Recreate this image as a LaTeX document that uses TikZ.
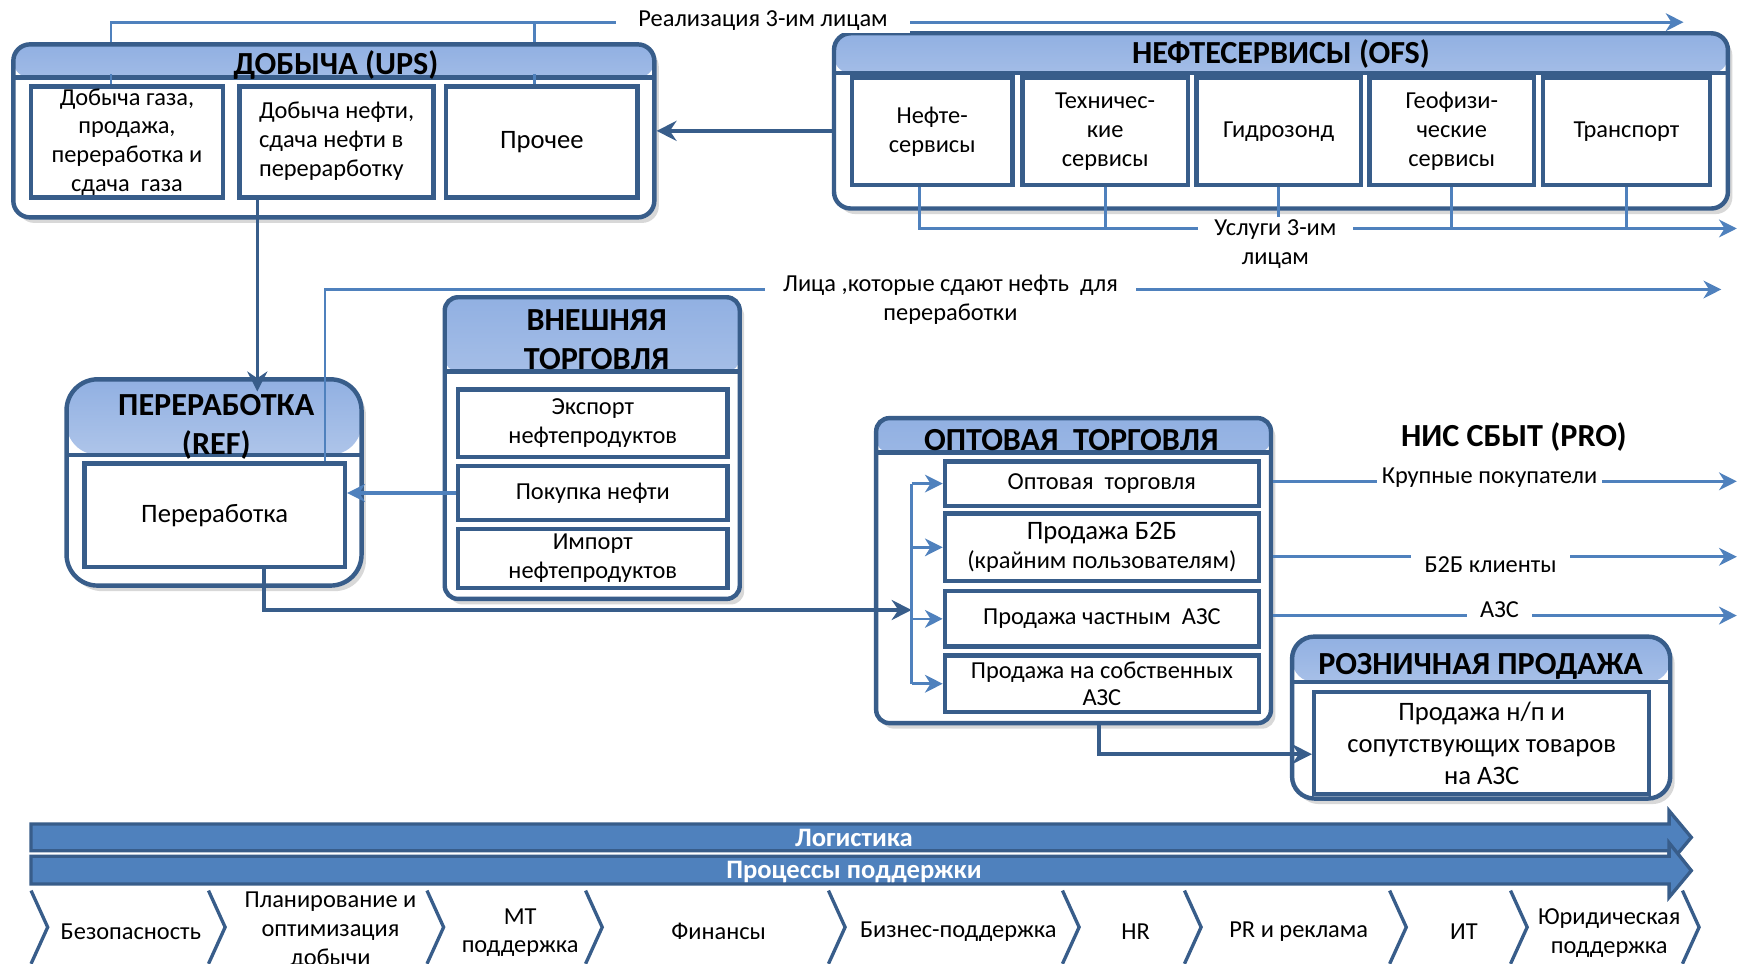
\documentclass[tikz,border=0pt]{standalone}
\usepackage{fontspec}
\setmainfont{Carlito}
\usetikzlibrary{arrows.meta,calc,fit,shadows}
\definecolor{bdr}{RGB}{56,93,138}
\definecolor{ltb}{RGB}{79,129,189}
\definecolor{hdtop}{RGB}{145,176,226}
\definecolor{hdbot}{RGB}{224,232,246}
\pgfdeclarelayer{bg}
\pgfsetlayers{bg,main}
\newcommand\hdrfont{\bfseries\fontsize{14.5}{17.5}\selectfont}
\newcommand\bodyfont{\fontsize{11}{13}\selectfont}
\begin{document}
\begin{tikzpicture}[x=0.5pt,y=-0.5pt,
  grp/.style={draw=bdr,line width=2pt,fill=white,inner sep=0pt,rounded corners=#1,
    drop shadow={shadow xshift=2pt,shadow yshift=-2.5pt,opacity=0.3}},
  hdr/.style={path picture={
    \shade[top color=hdtop,bottom color=hdbot] (path picture bounding box.north west) rectangle ([yshift=-#1]path picture bounding box.north east);
    \draw[bdr,line width=2pt] ([yshift=-#1]path picture bounding box.north west) -- ([yshift=-#1]path picture bounding box.north east);}},
  sub/.style={draw=bdr,line width=2pt,fill=white,inner sep=0pt,align=center,font=\bodyfont},
  ttl/.style={align=center,inner sep=0pt,font=\hdrfont},
  lab/.style={fill=white,inner ysep=1pt,inner xsep=#1,align=center,font=\bodyfont},
  ln/.style={ltb,line width=1.2pt},
  lna/.style={ln,-{Stealth[length=8pt,width=8pt,inset=2.5pt]}},
  dk/.style={bdr,line width=1.6pt,-{Stealth[length=9pt,width=9pt,inset=3pt]}},
  bar/.style={fill=ltb,draw=bdr,line width=1.5pt},
  chev/.style={bdr,line width=1.5pt},
  cl/.style={align=center,inner sep=0pt,font=\bodyfont},
  bl/.style={inner sep=0pt,text=white,font=\bfseries\fontsize{12}{14}\selectfont}
]
\useasboundingbox (0,0) rectangle (1568,869);
\fill[white] (0,0) rectangle (1568,869);

% ---------- group boxes ----------
\node[grp=7.5pt,hdr=15pt,fit={(12,40) (590,196)}] (ups) {};
\node[grp=7.5pt,hdr=18pt,fit={(752,30) (1558,188)}] (ofs) {};
\node[grp=14pt,hdr=34pt,fit={(60,342) (326,528)}] (ref) {};
\node[grp=6pt,hdr=33.5pt,fit={(401,268) (667,540)}] (ext) {};
\node[grp=6pt,hdr=15.5pt,fit={(790,377) (1146,652)}] (opt) {};
\node[grp=10pt,hdr=20.5pt,fit={(1165,574) (1506,720)}] (rozn) {};

% ---------- titles ----------
\node[ttl] (upsT) at (303,59) {ДОБЫЧА (UPS)};
\node[ttl] (ofsT) at (1155,49) {НЕФТЕСЕРВИСЫ (OFS)};
\node[ttl] (refT) at (195,385) {ПЕРЕРАБОТКА\\(REF)};
\node[ttl] (extT) at (538,306) {ВНЕШНЯЯ\\ТОРГОВЛЯ};
\node[ttl] (optT) at (966,397) {ОПТОВАЯ\ \ ТОРГОВЛЯ};
\node[ttl] (roznT) at (1335,601) {РОЗНИЧНАЯ ПРОДАЖА};
\node[ttl] (nis) at (1365,394) {НИС СБЫТ (PRO)};

% ---------- sub boxes ----------
\node[sub,minimum width=86.5pt,minimum height=50pt] (ups1) at (114.5,128) {Добыча газа,\\продажа,\\переработка и\\сдача\ \ газа};
\node[sub,minimum width=87.5pt,minimum height=50pt] (ups2) at (303.5,128) {\begin{tabular}{@{}l@{}}Добыча нефти,\\сдача нефти в\\перерарботку\end{tabular}};
\node[sub,minimum width=86.5pt,minimum height=50pt,font=\fontsize{12}{14}\selectfont] (ups3) at (488.5,128) {Прочее};

\node[sub,minimum width=72.5pt,minimum height=48.5pt] (ofs1) at (840.5,118.5) {Нефте-\\сервисы};
\node[sub,minimum width=74.5pt,minimum height=48.5pt] (ofs2) at (996.5,118.5) {Техничес-\\кие\\сервисы};
\node[sub,minimum width=74pt,minimum height=48.5pt] (ofs3) at (1153,118.5) {Гидрозонд};
\node[sub,minimum width=74pt,minimum height=48.5pt] (ofs4) at (1309,118.5) {Геофизи-\\ческие\\сервисы};
\node[sub,minimum width=75.5pt,minimum height=48.5pt] (ofs5) at (1466.5,118.5) {Транспорт};

\node[sub,minimum width=117.5pt,minimum height=46.5pt,font=\fontsize{12}{14}\selectfont] (ref1) at (193.5,464.5) {Переработка};

\node[sub,minimum width=121.5pt,minimum height=30.5pt] (ext1) at (534.5,381.5) {Экспорт\\нефтепродуктов};
\node[sub,minimum width=121.5pt,minimum height=24.5pt] (ext2) at (534.5,444.5) {Покупка нефти};
\node[sub,minimum width=121.5pt,minimum height=26.5pt] (ext3) at (534.5,503.5) {Импорт\\нефтепродуктов};

\node[sub,minimum width=141.5pt,minimum height=20pt] (opt1) at (993.5,436) {Оптовая\ \ торговля};
\node[sub,minimum width=141.5pt,minimum height=30.5pt] (opt2) at (993.5,493.5) {{\fontsize{12}{14}\selectfont Продажа Б2Б}\\(крайним пользователям)};
\node[sub,minimum width=141.5pt,minimum height=25pt] (opt3) at (993.5,558) {Продажа частным\ \ АЗС};
\node[sub,minimum width=141.5pt,minimum height=25.5pt,font=\fontsize{11}{12.5}\selectfont] (opt4) at (993.5,616.5) {Продажа на собственных\\АЗС};

\node[sub,minimum width=151pt,minimum height=46pt,font=\fontsize{12}{14.5}\selectfont] (rozn1) at (1336,670) {Продажа н/п и\\сопутствующих товаров\\на АЗС};

% ---------- connectors ----------
% Реализация 3-им лицам
\coordinate (realEnd) at (1518,20);
\coordinate (r1) at ($(ups1.north)+(-14.5,0)$);
\coordinate (r3) at ($(ups3.north)+(-6.5,0)$);
\draw[lna] (r1 |- ups.north) |- (realEnd);
\draw[ln] (r3 |- ups.north) -- (r3 |- realEnd);
\draw[ln] (r1) -- ++(0,-9);
\draw[ln] (r3) -- ++(0,-9);
\node[lab=10pt] (realLab) at (688,19) {Реализация 3-им лицам};

% Услуги 3-им лицам
\coordinate (uslEnd) at (1566,206);
\coordinate (u1) at ($(ofs1.south)+(-11.5,0)$);
\draw[lna] (u1) |- (uslEnd);
\foreach \n in {ofs2,ofs3,ofs4,ofs5} \draw[ln] (\n.south) -- (\n.south |- uslEnd);
\node[lab=7.5pt] (uslLab) at (1150,220) {Услуги 3-им\\лицам};

% OFS -> UPS
\draw[dk] (ofs.west |- ups.east) -- (ups.east);

% UPS -> REF
\coordinate (a1) at ($(ups2.south)+(-71.5,0)$);
\draw[dk] (a1) -- ($(a1 |- ref.north)+(0,13)$);

% Лица, которые сдают нефть
\coordinate (lEnd) at (1552,261);
\coordinate (l0) at ($(ref1.north)+(99.5,0)$);
\draw[lna] (l0) |- (lEnd);
\node[lab=8pt] (litsaLab) at (857,270) {Лица ,которые сдают нефть\ \ для\\переработки};

% Экспорт -> импортный рынок
\begin{pgfonlayer}{bg}
\coordinate (eEnd) at (1556,364);
\draw[lna] (ext1.east |- eEnd) -- (eEnd);
\node[lab=12pt] (impLab) at (1216,362) {Импортный рынок нефтепродуктов\\(Platts -/+)};
\end{pgfonlayer}

% Покупка нефти -> Переработка
\draw[lna,line width=1.6pt] (ext2.west) -- (ext2.west -| ref1.east);

% REF -> Оптовая
\coordinate (dIn) at (822,550);
\coordinate (b1) at ($(ref1.south)+(44.5,0)$);
\draw[dk] (b1) |- (dIn);

% distribution inside Оптовая
\coordinate (dTop) at (822,436);
\draw[ln] (dTop) -- (dTop |- opt4.west);
\foreach \n in {opt1,opt2,opt3,opt4} \draw[lna] (dTop |- \n.west) -- (\n.west);

% right-hand outputs
\coordinate (kEnd) at (1566,434);
\coordinate (bEnd) at (1566,502);
\coordinate (zEnd) at (1566,555);
\draw[lna] (opt.east |- kEnd) -- (kEnd);
\draw[lna] (opt.east |- bEnd) -- (bEnd);
\draw[lna] (opt.east |- zEnd) -- (zEnd);
\node[lab=2pt] (kLab) at (1343,431) {Крупные покупатели};
\node[lab=6pt] (bLab) at (1344,509) {Б2Б клиенты};
\node[lab=6pt] (zLab) at (1352,550) {АЗС};

% Оптовая -> Розничная
\coordinate (c1) at ($(opt.south)+(23,0)$);
\draw[dk] (c1) |- ($(rozn1.west)+(0,10)$);

% ---------- bottom bars ----------
\draw[bar] (28,743) -- (1505,743) -- (1505,731) -- (1525,755) -- (1505,779) -- (1505,767) -- (28,767) -- cycle;
\draw[bar] (28,772) -- (1505,772) -- (1505,760) -- (1525,785) -- (1505,809) -- (1505,797) -- (28,797) -- cycle;
\node[bl] (logT) at (770,756) {Логистика};
\node[bl] (procT) at (770,786) {Процессы поддержки};

% ---------- chevrons ----------
\foreach \x in {28,188,385,528,747,958,1068,1253,1362,1517}
  \draw[chev] (\x,803) -- ++(15,33) -- ++(-15,33);
\node[cl] (c01) at (118,840) {Безопасность};
\node[cl] (c02) at (298,839) {Планирование и\\оптимизация\\добычи};
\node[cl] (c03) at (469,841) {МТ\\поддержка};
\node[cl] (c04) at (648,840) {Финансы};
\node[cl] (c05) at (864,840) {Бизнес-поддержка};
\node[cl] (c06) at (1024,840) {HR};
\node[cl] (c07) at (1171,840) {PR и реклама};
\node[cl] (c08) at (1320,840) {ИТ};
\node[cl] (c09) at (1451,841) {Юридическая\\поддержка};
\end{tikzpicture}
\end{document}
